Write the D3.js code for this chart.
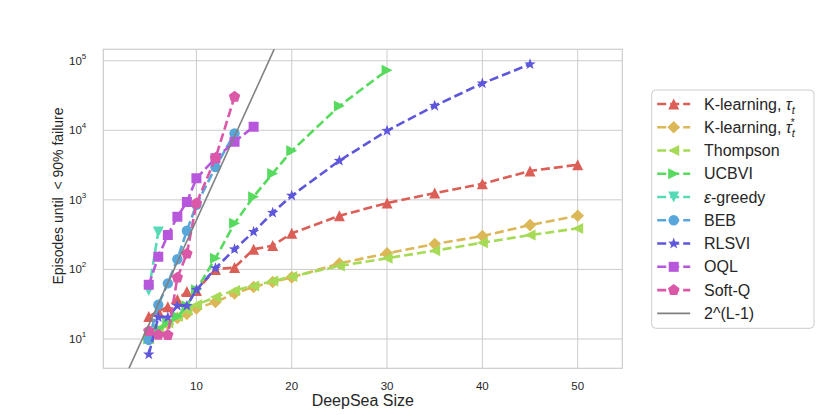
<!DOCTYPE html>
<html>
<head>
<meta charset="utf-8">
<script src="https://cdn.jsdelivr.net/npm/d3@7"></script>
<style>
  body { margin: 0; background: #fff; }
  text { font-family: "Liberation Sans", Arial, sans-serif; fill: #262626; }
</style>
</head>
<body>
<div class="canvas"></div>
<script>
// data
const sizesAll = [5, 6, 7, 8, 9, 10, 12, 14, 16, 18, 20, 25, 30, 35, 40, 45, 50];
const kLearning = [21, 25, 29, 37, 48, 50, 100, 107, 195, 220, 330, 590, 900, 1250, 1700, 2600, 3200];
const kLearningStar = [11, 12.7, 16.5, 20, 23, 27.5, 34, 45, 56, 66, 77, 122, 170, 232, 302, 434, 591];
const thompson = [10, 14, 17, 21, 26, 31, 40, 50, 58, 68, 79, 112, 145, 186, 242, 312, 389];
const sizesUcbvi = [5, 6, 7, 8, 9, 10, 12, 14, 16, 18, 20, 25, 30];
const ucbvi = [10, 14, 17, 21, 30, 51, 145, 460, 1110, 2400, 5070, 22300, 73000];
const sizesEps = [5, 6];
const epsGreedy = [50, 345];
const sizesBeb = [5, 6, 7, 8, 9, 10, 12, 14];
const beb = [9.7, 31, 63, 140, 360, 850, 2950, 9000];
const sizesRlsvi = [5, 6, 7, 8, 9, 10, 12, 14, 16, 18, 20, 25, 30, 35, 40, 45];
const rlsvi = [6, 20.5, 20.5, 30, 30, 51, 104, 195, 347, 653, 1150, 3650, 9840, 22500, 47200, 89000];
const sizesOql = [5, 6, 7, 8, 9, 10, 12, 14, 16];
const oql = [60, 152, 312, 571, 935, 2040, 3960, 6840, 11200];
const sizesSoftQ = [5, 6, 7, 8, 9, 10, 12, 14];
const softQ = [13, 11.5, 11.4, 76, 168, 890, 3980, 30300];
// reference line 2^(L-1), two end points
const refL = [1, 20];
const refVal = [1, 524288];

const xTicks = [10, 20, 30, 40, 50];
const yTicks = [10, 100, 1000, 10000, 100000];
const yTickExp = ['1', '2', '3', '4', '5'];

const series = [
    {name: 'kt', x: sizesAll, y: kLearning, color: '#db5f57', marker: 'up'},
    {name: 'kts', x: sizesAll, y: kLearningStar, color: '#dbb757', marker: 'diamond'},
    {name: 'Thompson', x: sizesAll, y: thompson, color: '#a7db57', marker: 'left'},
    {name: 'UCBVI', x: sizesUcbvi, y: ucbvi, color: '#57db5e', marker: 'right'},
    {name: 'eps', x: sizesEps, y: epsGreedy, color: '#57dbb7', marker: 'down'},
    {name: 'BEB', x: sizesBeb, y: beb, color: '#57a7db', marker: 'circle'},
    {name: 'RLSVI', x: sizesRlsvi, y: rlsvi, color: '#5e57db', marker: 'star'},
    {name: 'OQL', x: sizesOql, y: oql, color: '#b757db', marker: 'square'},
    {name: 'Soft-Q', x: sizesSoftQ, y: softQ, color: '#db57a7', marker: 'pentagon'}
];

const width = 830, height = 415;
const margin = {top: 49.3, right: 830 - 622.3, bottom: 415 - 368.3, left: 103.3};
const graphWidth = width - margin.left - margin.right;
const graphHeight = height - margin.top - margin.bottom;

const svg = d3.select('.canvas')
    .append('svg')
        .attr('width', width)
        .attr('height', height);

const x = d3.scaleLinear()
    .domain([0.23, 54.68])
    .range([0, graphWidth]);

const y = d3.scaleLog()
    .domain([Math.pow(10, 0.579), Math.pow(10, 5.164)])
    .range([graphHeight, 0]);

const graph = svg.append('g')
    .attr('transform', `translate(${margin.left},${margin.top})`);

graph.append('clipPath').attr('id', 'clip')
    .append('rect').attr('width', graphWidth).attr('height', graphHeight);

// grid
graph.selectAll('.vgrid').data(xTicks).enter().append('line')
    .attr('x1', d => x(d)).attr('x2', d => x(d))
    .attr('y1', 0).attr('y2', graphHeight)
    .attr('stroke', '#cccccc').attr('stroke-width', 1);
graph.selectAll('.hgrid').data(yTicks).enter().append('line')
    .attr('x1', 0).attr('x2', graphWidth)
    .attr('y1', d => y(d)).attr('y2', d => y(d))
    .attr('stroke', '#cccccc').attr('stroke-width', 1);

// frame
graph.append('rect')
    .attr('width', graphWidth).attr('height', graphHeight)
    .attr('fill', 'none').attr('stroke', '#cccccc').attr('stroke-width', 1.2);

// tick labels
graph.selectAll('.xt').data(xTicks).enter().append('text')
    .attr('x', d => x(d)).attr('y', graphHeight + 22)
    .attr('text-anchor', 'middle').attr('font-size', 11.5)
    .text(d => d);

const yt = graph.selectAll('.yt').data(yTicks).enter().append('text')
    .attr('x', -17).attr('y', d => y(d) + 4)
    .attr('text-anchor', 'end').attr('font-size', 11.5);
yt.append('tspan').text('10');
yt.append('tspan').attr('font-size', 8).attr('dy', -6).text((d, i) => yTickExp[i]);

// axis labels
svg.append('text')
    .attr('x', margin.left + graphWidth / 2).attr('y', 406)
    .attr('text-anchor', 'middle').attr('font-size', 16)
    .text('DeepSea Size');
svg.append('text')
    .attr('transform', 'translate(63,196) rotate(-90)')
    .attr('text-anchor', 'middle').attr('font-size', 14)
    .attr('xml:space', 'preserve').style('white-space', 'pre')
    .text('Episodes until  < 90% failure');

// marker shapes
function markerPath(kind) {
    const r = 5.5;
    if (kind === 'up') return `M0,${-r}L${r},${r}L${-r},${r}Z`;
    if (kind === 'down') return `M0,${r}L${r},${-r}L${-r},${-r}Z`;
    if (kind === 'left') return `M${-r},0L${r},${-r}L${r},${r}Z`;
    if (kind === 'right') return `M${r},0L${-r},${-r}L${-r},${r}Z`;
    if (kind === 'diamond') { const d = 6.3; return `M0,${-d}L${d},0L0,${d}L${-d},0Z`; }
    if (kind === 'square') { const s = 5; return `M${-s},${-s}H${s}V${s}H${-s}Z`; }
    if (kind === 'circle') return d3.symbol(d3.symbolCircle, Math.PI * 5.2 * 5.2)();
    const pts = [];
    if (kind === 'star') {
        for (let i = 0; i < 10; i++) {
            const rad = i % 2 === 0 ? 6 : 2.4;
            const a = -Math.PI / 2 + i * Math.PI / 5;
            pts.push([rad * Math.cos(a), rad * Math.sin(a)]);
        }
    } else { // pentagon
        for (let i = 0; i < 5; i++) {
            const a = -Math.PI / 2 + i * 2 * Math.PI / 5;
            pts.push([6 * Math.cos(a), 6 * Math.sin(a)]);
        }
    }
    return 'M' + pts.map(p => p.join(',')).join('L') + 'Z';
}

const line = d3.line()
    .x(d => x(d[0]))
    .y(d => y(d[1]));

const plot = graph.append('g').attr('clip-path', 'url(#clip)');

series.forEach(s => {
    const pts = s.x.map((v, i) => [v, s.y[i]]);
    plot.append('path')
        .attr('d', line(pts))
        .attr('fill', 'none')
        .attr('stroke', s.color)
        .attr('stroke-width', 2.6)
        .attr('stroke-dasharray', '9,4');
    plot.selectAll(null).data(pts).enter().append('path')
        .attr('d', markerPath(s.marker))
        .attr('transform', d => `translate(${x(d[0])},${y(d[1])})`)
        .attr('fill', s.color);
});

// 2^(L-1)
plot.append('path')
    .attr('d', line(refL.map((v, i) => [v, refVal[i]])))
    .attr('fill', 'none')
    .attr('stroke', '#808080')
    .attr('stroke-width', 1.6);

// legend
const legend = svg.append('g').attr('transform', 'translate(651.7,90)');
legend.append('rect')
    .attr('width', 162.3).attr('height', 238.3)
    .attr('rx', 4)
    .attr('fill', '#fff').attr('fill-opacity', 0.8)
    .attr('stroke', '#cccccc').attr('stroke-width', 1);

const rowH = 23.26;
series.forEach((s, i) => {
    const row = legend.append('g').attr('transform', `translate(0,${14 + i * rowH})`);
    row.append('line')
        .attr('x1', 5.5).attr('x2', 38.5)
        .attr('stroke', s.color).attr('stroke-width', 2.6)
        .attr('stroke-dasharray', '9,4');
    row.append('path')
        .attr('d', markerPath(s.marker))
        .attr('transform', 'translate(22,0)')
        .attr('fill', s.color);
    const t = row.append('text')
        .attr('x', 52.3).attr('y', 5.5)
        .attr('font-size', 16);
    if (s.name === 'kt' || s.name === 'kts') {
        t.append('tspan').text('K-learning, ');
        t.append('tspan').attr('font-style', 'italic').text('τ');
        if (s.name === 'kts') {
            t.append('tspan').attr('font-style', 'italic').attr('font-size', 11).attr('dy', 4).text('t');
            t.append('tspan').attr('font-size', 10).attr('dx', -4).attr('dy', -11).text('*');
        } else {
            t.append('tspan').attr('font-style', 'italic').attr('font-size', 11).attr('dy', 4).text('t');
        }
    } else if (s.name === 'eps') {
        t.append('tspan').attr('font-style', 'italic').text('ε');
        t.append('tspan').text('-greedy');
    } else {
        t.text(s.name);
    }
});
const refRow = legend.append('g').attr('transform', `translate(0,${14 + 9 * rowH})`);
refRow.append('line')
    .attr('x1', 5.5).attr('x2', 38.5)
    .attr('stroke', '#808080').attr('stroke-width', 1.6);
refRow.append('text')
    .attr('x', 52.3).attr('y', 5.5)
    .attr('font-size', 16)
    .text('2^(L-1)');
</script>
</body>
</html>
